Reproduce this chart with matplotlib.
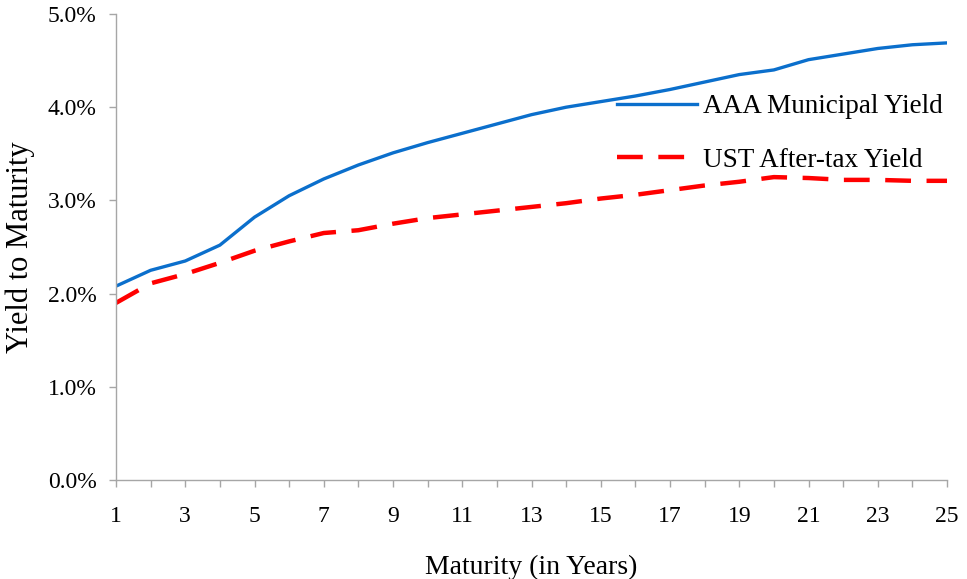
import matplotlib
matplotlib.use("Agg")
import matplotlib.pyplot as plt
from matplotlib.ticker import FuncFormatter, MultipleLocator

years = list(range(1, 26))
muni_yield = [2.08, 2.25, 2.35, 2.52, 2.82, 3.05, 3.23, 3.38, 3.51, 3.62, 3.72, 3.82,
              3.92, 4.00, 4.06, 4.12, 4.19, 4.27, 4.35, 4.40, 4.51, 4.57, 4.63, 4.67, 4.69]
ust_after_tax = [1.90, 2.11, 2.21, 2.33, 2.46, 2.56, 2.65, 2.68, 2.75, 2.81, 2.85, 2.89,
                 2.93, 2.97, 3.02, 3.06, 3.11, 3.16, 3.20, 3.25, 3.24, 3.22, 3.22, 3.21, 3.21]

plt.rcParams['font.family'] = ['Liberation Serif', 'DejaVu Serif']

fig = plt.figure(figsize=(9.67, 5.79), dpi=100)
ax = fig.add_axes([116/967, 1-480/579, (947-116)/967, (480-14)/579])

ax.plot(years, muni_yield, color='#0b6fcc', lw=2.4, label='AAA Municipal Yield')
ax.plot(years, ust_after_tax, color='#ff0000', lw=3.2, dashes=(5.8, 3.5), label='UST After-tax Yield')

ax.set_xlim(1, 25)
ax.set_ylim(0, 5)
ax.yaxis.set_major_locator(MultipleLocator(1))
ax.yaxis.set_major_formatter(FuncFormatter(lambda v, p: f"{v:.1f}%"))
ax.set_xticks(years)
ax.set_xticklabels([str(y) if (y % 2 == 1) else '' for y in years])

for s in ['top', 'right']:
    ax.spines[s].set_visible(False)
for s in ['left', 'bottom']:
    ax.spines[s].set_color('#a6a6a6')
    ax.spines[s].set_linewidth(1.0)
ax.tick_params(axis='both', colors='#a6a6a6', length=5, width=1.0, labelsize=17, labelcolor='black')
ax.tick_params(axis='x', pad=14)
ax.tick_params(axis='y', pad=9)

ax.set_xlabel('Maturity (in Years)', fontsize=20, labelpad=20)
ax.set_ylabel('Yield to Maturity', fontsize=22, labelpad=9)

leg = ax.legend(loc='upper left', bbox_to_anchor=(0.603, 0.828), frameon=False, fontsize=19.5,
                borderpad=0, borderaxespad=0, handlelength=2.95, handletextpad=0.22, labelspacing=1.05)

fig.savefig('out.png', dpi=100)
